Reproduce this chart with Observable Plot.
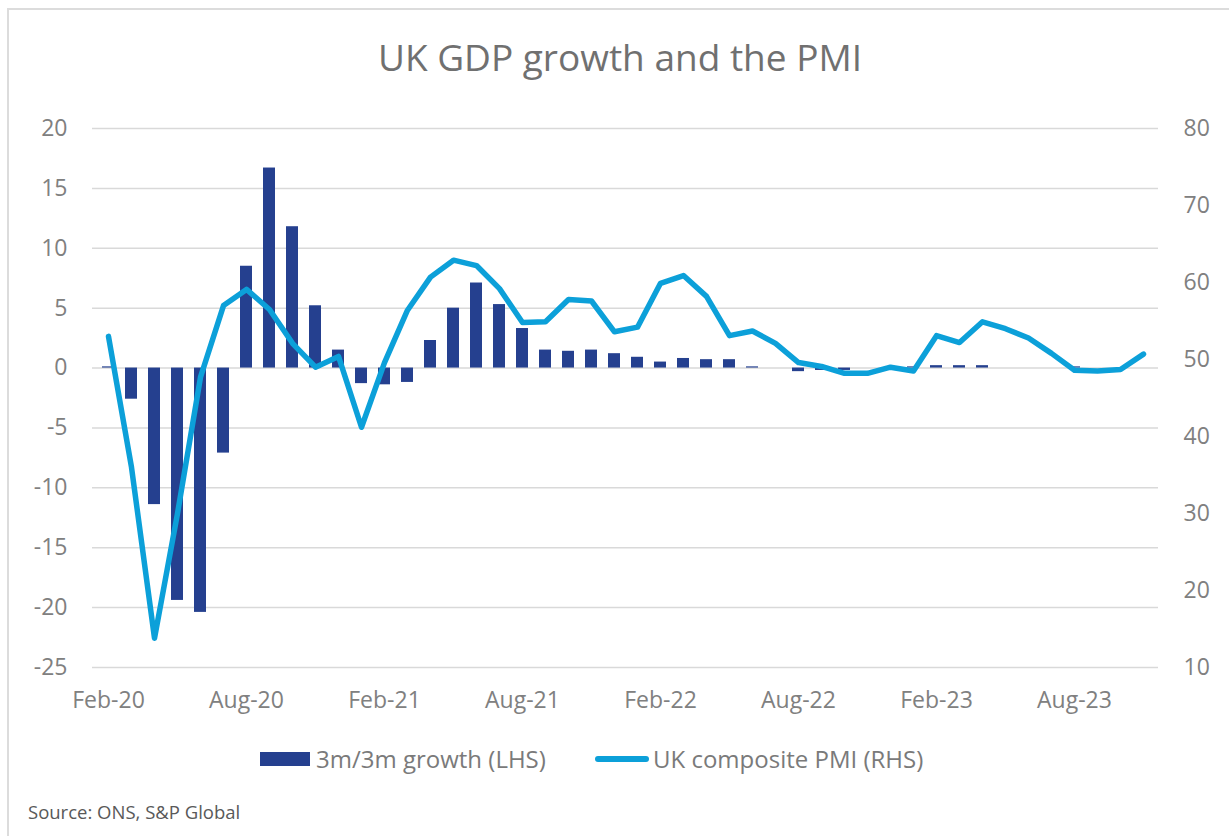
<!DOCTYPE html>
<html>
<head>
<meta charset="utf-8">
<script src="https://cdn.jsdelivr.net/npm/d3@7"></script>
<script src="https://cdn.jsdelivr.net/npm/@observablehq/plot@0.6"></script>
<style>
  html, body { margin: 0; padding: 0; background: #fff; }
  body { width: 1229px; height: 836px; overflow: hidden; position: relative; font-family: "Open Sans", sans-serif; }
  #frame { position: absolute; left: 7px; top: 8px; width: 1240px; height: 840px; border-left: 2px solid #dcdcdc; border-top: 2px solid #dcdcdc; box-sizing: border-box; }
  #title { position: absolute; left: 0; width: 1240px; top: 30px; text-align: center; font-size: 37px; color: #707070; line-height: 54px; }
  #chart { position: absolute; left: 0; top: 90px; }
  #legend { position: absolute; top: 744px; left: 0; height: 30px; width: 1229px; font-size: 24px; color: #7a7a7a; }
  .sw { position: absolute; }
  .lt { position: absolute; top: 0; line-height: 30px; white-space: nowrap; }
  #source { position: absolute; left: 28px; top: 798px; font-size: 18.5px; color: #595959; line-height: 28px; }
</style>
</head>
<body>
<div id="frame"></div>
<div id="title">UK GDP growth and the PMI</div>
<div id="chart"></div>
<div id="legend">
  <div class="sw" style="left:260px; top:8px; width:50px; height:14px; background:#25408f;"></div>
  <div class="lt" style="left:316px;">3m/3m growth (LHS)</div>
  <div class="sw" style="left:595px; top:12px; width:54px; height:6px; border-radius:3px; background:#0ca0d9;"></div>
  <div class="lt" style="left:653px;">UK composite PMI (RHS)</div>
</div>
<div id="source">Source: ONS, S&amp;P Global</div>
<script>
const months = [
  "Feb-20","Mar-20","Apr-20","May-20","Jun-20","Jul-20","Aug-20","Sep-20","Oct-20","Nov-20","Dec-20",
  "Jan-21","Feb-21","Mar-21","Apr-21","May-21","Jun-21","Jul-21","Aug-21","Sep-21","Oct-21","Nov-21","Dec-21",
  "Jan-22","Feb-22","Mar-22","Apr-22","May-22","Jun-22","Jul-22","Aug-22","Sep-22","Oct-22","Nov-22","Dec-22",
  "Jan-23","Feb-23","Mar-23","Apr-23","May-23","Jun-23","Jul-23","Aug-23","Sep-23","Oct-23","Nov-23"
];
const gdpGrowth = [
  0.1, -2.6, -11.4, -19.4, -20.4, -7.1, 8.5, 16.7, 11.8, 5.2, 1.5,
  -1.3, -1.4, -1.2, 2.3, 5.0, 7.1, 5.3, 3.3, 1.5, 1.4, 1.5, 1.2,
  0.9, 0.5, 0.8, 0.7, 0.7, 0.1, 0.0, -0.3, -0.2, -0.2, 0.0, 0.0,
  0.1, 0.2, 0.2, 0.2, 0.0, 0.0, 0.0, 0.1, 0.0, 0.0, 0.0
];
const compositePMI = [
  53.0, 36.0, 13.8, 30.0, 47.7, 57.0, 59.1, 56.5, 52.1, 49.0, 50.4,
  41.2, 49.6, 56.4, 60.7, 62.9, 62.2, 59.2, 54.8, 54.9, 57.8, 57.6, 53.6,
  54.2, 59.9, 60.9, 58.2, 53.1, 53.7, 52.1, 49.6, 49.1, 48.2, 48.2, 49.0,
  48.5, 53.1, 52.2, 54.9, 54.0, 52.8, 50.8, 48.6, 48.5, 48.7, 50.7
];
const xTickLabels = ["Feb-20","Aug-20","Feb-21","Aug-21","Feb-22","Aug-22","Feb-23","Aug-23"];
const lhsTicks = [20, 15, 10, 5, 0, -5, -10, -15, -20, -25];
const rhsTicks = [80, 70, 60, 50, 40, 30, 20, 10];
const lhsDomain = [-25, 20];
const rhsDomain = [10, 80];

// map right-hand (PMI) values onto the left-hand scale
const toLeft = p => lhsDomain[0] + (p - rhsDomain[0]) * (lhsDomain[1] - lhsDomain[0]) / (rhsDomain[1] - rhsDomain[0]);
const fromLeft = v => rhsDomain[0] + (v - lhsDomain[0]) * (rhsDomain[1] - rhsDomain[0]) / (lhsDomain[1] - lhsDomain[0]);

const data = months.map((m, i) => ({month: m, gdp: gdpGrowth[i], pmi: compositePMI[i]}));

const chart = Plot.plot({
  width: 1229,
  height: 640,
  marginLeft: 92,
  marginRight: 71,
  marginTop: 38,
  marginBottom: 63,
  style: {fontFamily: "'Open Sans', sans-serif", fontSize: "23px", color: "#808080", background: "transparent", overflow: "visible"},
  x: {type: "band", domain: months, paddingInner: 0.48, paddingOuter: 0.24, axis: null},
  y: {domain: lhsDomain, axis: null},
  marks: [
    Plot.gridY(lhsTicks, {stroke: "#d9d9d9", strokeOpacity: 1, strokeWidth: 1.5}),
    Plot.barY(data, {x: "month", y: "gdp", fill: "#25408f"}),
    Plot.line(data, {x: "month", y: d => toLeft(d.pmi), stroke: "#0ca0d9", strokeWidth: 5.5, strokeLinejoin: "round", strokeLinecap: "round"}),
    Plot.axisY({anchor: "left", ticks: lhsTicks, tickFormat: d => String(d), tickSize: 0, tickPadding: 25, label: null, fontSize: 23}),
    Plot.axisY({anchor: "right", ticks: rhsTicks.map(toLeft), tickFormat: v => String(Math.round(fromLeft(v))), tickSize: 0, tickPadding: 25, label: null, fontSize: 23}),
    Plot.axisX({anchor: "bottom", ticks: xTickLabels, tickSize: 0, tickPadding: 24, label: null, fontSize: 23})
  ]
});
document.getElementById("chart").appendChild(chart);
</script>
</body>
</html>
